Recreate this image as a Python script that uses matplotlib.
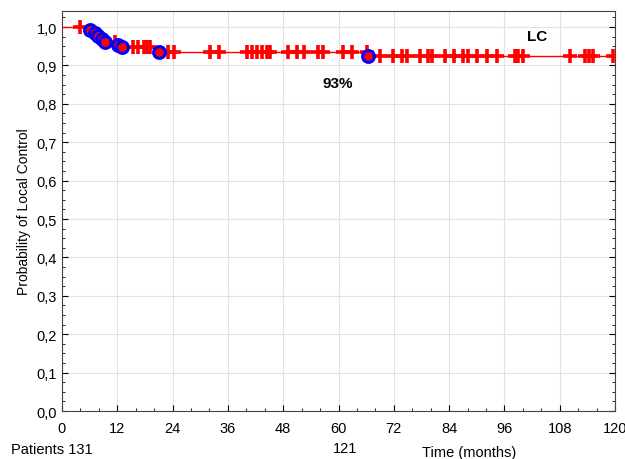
import matplotlib.pyplot as plt
import numpy as np
from matplotlib.ticker import FuncFormatter, MultipleLocator

plt.rcParams["font.family"] = ["Liberation Sans", "DejaVu Sans"]

# Kaplan-Meier steps (time of event in months, survival after the event)
event_times = [6.1, 7.2, 7.9, 8.6, 9.3, 12.2, 13.0, 21.1, 66.3]
event_surv = [0.992, 0.985, 0.977, 0.969, 0.962, 0.954, 0.947, 0.934, 0.924]

# censored observations (months)
censor_times = [4.0, 11.5, 15.5, 16.6, 17.7, 18.5, 19.2, 23.1, 24.2, 32.1, 34.1,
                40.1, 41.2, 42.3, 43.3, 44.4, 45.1, 49.1, 51.1, 52.6, 55.5, 56.7,
                61.0, 62.9, 66.1, 69.0, 71.9, 73.7, 74.8, 77.7, 79.5, 80.2, 83.1,
                85.1, 87.1, 88.0, 90.0, 92.2, 94.3, 98.3, 99.0, 100.0, 110.2,
                113.5, 114.4, 115.3, 119.5]

patients_label = "Patients 131"
at_risk_60 = "121"


def surv_at(t):
    idx = np.searchsorted(event_times, t, side="right")
    return 1.0 if idx == 0 else event_surv[idx - 1]


fig = plt.figure(figsize=(6.25, 4.6), dpi=100)
ax = fig.add_axes([0.0992, 0.1043, 0.8848, 0.8697])

step_x = [0] + event_times + [120]
step_y = [1.0] + event_surv + [event_surv[-1]]
ax.step(step_x, step_y, where="post", color="red", lw=1.0, zorder=3)

cy = [surv_at(t) for t in censor_times]
ax.plot(censor_times, cy, ls="none", marker="+", color="red", ms=10, mew=2.6, zorder=4)
ax.plot(event_times, event_surv, ls="none", marker="o", mfc="red", mec="blue",
        ms=8.5, mew=2.2, zorder=5)

ax.set_xlim(0, 120)
ax.set_ylim(0, 1.042)
ax.xaxis.set_major_locator(MultipleLocator(12))
ax.xaxis.set_minor_locator(MultipleLocator(4))
ax.yaxis.set_major_locator(MultipleLocator(0.1))
ax.yaxis.set_minor_locator(MultipleLocator(0.025))
ax.yaxis.set_major_formatter(FuncFormatter(lambda v, p: f"{v:.1f}".replace(".", ",")))
ax.tick_params(which="both", direction="in", top=False, right=True, labelsize=10.5)
ax.tick_params(axis="x", which="major", pad=7)
ax.tick_params(which="major", length=4)
ax.tick_params(which="minor", length=2)
ax.grid(True, which="major", color="#e2e2e2", lw=0.8)
ax.set_axisbelow(True)
for s in ax.spines.values():
    s.set_color("#444444")

ax.set_ylabel("Probability of Local Control", fontsize=10)
ax.text(103, 0.977, "LC", fontsize=11, fontweight="bold", ha="center", va="center")
ax.text(59.9, 0.854, "93%", fontsize=11, fontweight="bold", ha="center", va="center")

fig.text(0.017, 0.006, patients_label, fontsize=10.5, va="bottom")
fig.text(0.552, 0.008, at_risk_60, fontsize=10.5, va="bottom", ha="center")
fig.text(0.75, 0.0, "Time (months)", fontsize=10.5, va="bottom", ha="center")

fig.savefig("out.png", dpi=100)
